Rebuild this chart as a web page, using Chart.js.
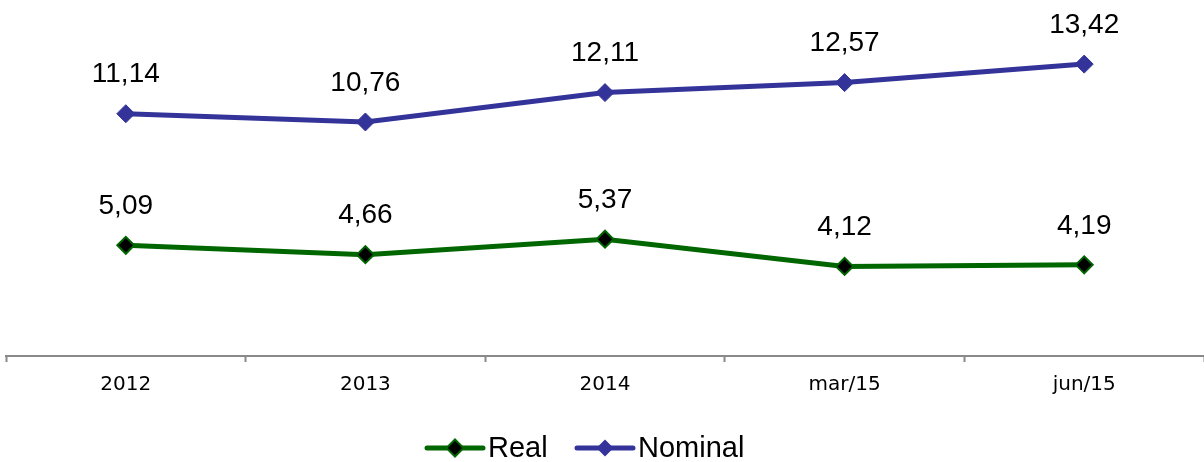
<!DOCTYPE html>
<html>
<head>
<meta charset="utf-8">
<script src="https://cdn.jsdelivr.net/npm/chart.js@4/dist/chart.umd.min.js"></script>
<style>
  html, body { margin: 0; padding: 0; background: #fff; }
  #wrap { width: 1204px; height: 462px; }
</style>
</head>
<body>
<div id="wrap"><canvas id="c"></canvas></div>
<script>
// データ
const categories = ['2012', '2013', '2014', 'mar/15', 'jun/15'];
const realValues = [5.09, 4.66, 5.37, 4.12, 4.19];
const nominalValues = [11.14, 10.76, 12.11, 12.57, 13.42];
const yMin = 0;
const yMax = 16;

const GREEN = '#006600';
const BLUE = '#333399';
const LABEL_FONT = '28px "Liberation Sans", Arial, sans-serif';

function fmt(v) {
  return v.toFixed(2).replace('.', ',');
}

// データラベル（点の上に表示）
const valueLabels = {
  id: 'valueLabels',
  afterDatasetsDraw(chart) {
    const ctx = chart.ctx;
    ctx.save();
    ctx.font = LABEL_FONT;
    ctx.fillStyle = '#000';
    ctx.textAlign = 'center';
    ctx.textBaseline = 'middle';
    chart.data.datasets.forEach((ds, i) => {
      chart.getDatasetMeta(i).data.forEach((pt, j) => {
        ctx.fillText(fmt(ds.data[j]), pt.x, pt.y - 39);
      });
    });
    ctx.restore();
  }
};

// 凡例（線＋ひし形）
function drawDiamond(ctx, x, y, r, fill, stroke) {
  ctx.beginPath();
  ctx.moveTo(x, y - r);
  ctx.lineTo(x + r, y);
  ctx.lineTo(x, y + r);
  ctx.lineTo(x - r, y);
  ctx.closePath();
  ctx.fillStyle = fill;
  ctx.fill();
  if (stroke) {
    ctx.lineWidth = 2;
    ctx.strokeStyle = stroke;
    ctx.stroke();
  }
}

const bottomLegend = {
  id: 'bottomLegend',
  afterDraw(chart) {
    const ctx = chart.ctx;
    const y = 448;
    const items = [
      { x: 427, text: 'Real', color: GREEN, fill: '#000', stroke: GREEN },
      { x: 577, text: 'Nominal', color: BLUE, fill: BLUE, stroke: null }
    ];
    ctx.save();
    items.forEach(it => {
      ctx.beginPath();
      ctx.lineCap = 'round';
      ctx.lineWidth = 5;
      ctx.strokeStyle = it.color;
      ctx.moveTo(it.x, y);
      ctx.lineTo(it.x + 56, y);
      ctx.stroke();
      drawDiamond(ctx, it.x + 28, y, 8.5, it.fill, it.stroke);
      ctx.font = '29px "Liberation Sans", Arial, sans-serif';
      ctx.fillStyle = '#000';
      ctx.textAlign = 'left';
      ctx.textBaseline = 'middle';
      ctx.fillText(it.text, it.x + 61, y + 1);
    });
    ctx.restore();
  }
};

new Chart(document.getElementById('c'), {
  type: 'line',
  data: {
    labels: categories,
    datasets: [
      {
        label: 'Real',
        data: realValues,
        borderColor: GREEN,
        borderWidth: 5,
        pointStyle: 'rectRot',
        pointRadius: 8.5,
        pointBackgroundColor: '#000',
        pointBorderColor: GREEN,
        pointBorderWidth: 2,
        tension: 0
      },
      {
        label: 'Nominal',
        data: nominalValues,
        borderColor: BLUE,
        borderWidth: 5,
        pointStyle: 'rectRot',
        pointRadius: 9,
        pointBackgroundColor: BLUE,
        pointBorderColor: BLUE,
        pointBorderWidth: 1,
        tension: 0
      }
    ]
  },
  options: {
    responsive: true,
    maintainAspectRatio: false,
    animation: false,
    layout: {
      autoPadding: false,
      padding: { left: 6, right: -2, top: 8, bottom: 54 }
    },
    plugins: {
      legend: { display: false },
      tooltip: { enabled: false }
    },
    scales: {
      x: {
        offset: true,
        grid: {
          offset: true,
          drawOnChartArea: false,
          drawTicks: true,
          tickLength: 6,
          tickWidth: 2,
          tickColor: '#898989'
        },
        border: { display: true, color: '#898989', width: 2 },
        ticks: {
          color: '#000',
          padding: 11,
          font: { family: '"DejaVu Sans", Verdana, sans-serif', size: 20 }
        }
      },
      y: {
        display: false,
        min: yMin,
        max: yMax
      }
    }
  },
  plugins: [valueLabels, bottomLegend]
});
</script>
</body>
</html>
